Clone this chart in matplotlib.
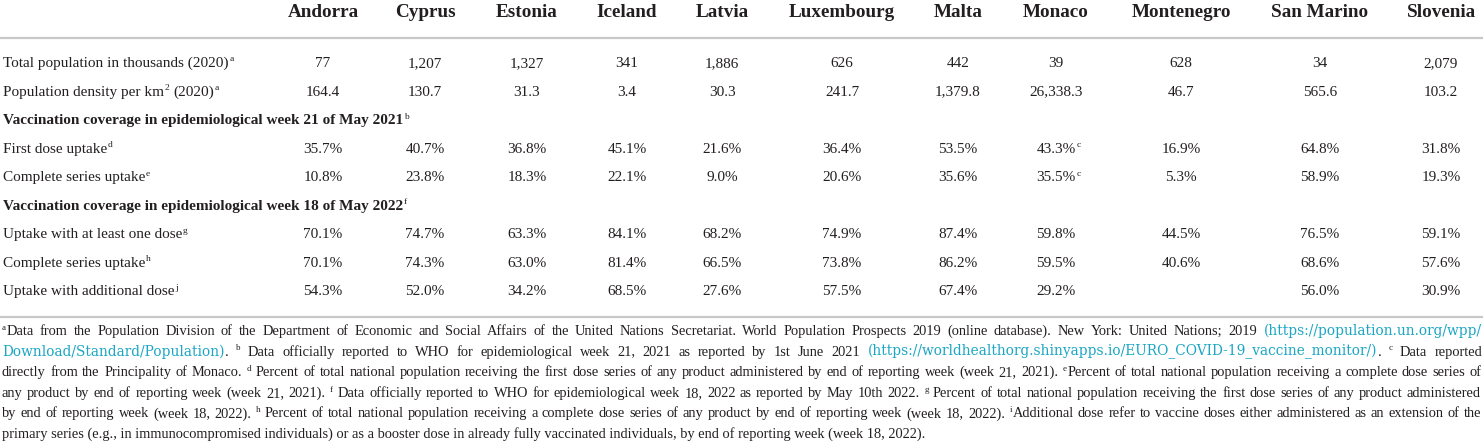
import matplotlib
matplotlib.use("Agg")
import matplotlib.pyplot as plt

W, H = 1483, 445

# table content
countries = ["Andorra", "Cyprus", "Estonia", "Iceland", "Latvia", "Luxembourg",
             "Malta", "Monaco", "Montenegro", "San Marino", "Slovenia"]
total_pop = [77, 1207, 1327, 341, 1886, 626, 442, 39, 628, 34, 2079]
density = [164.4, 130.7, 31.3, 3.4, 30.3, 241.7, 1379.8, 26338.3, 46.7, 565.6, 103.2]
first_dose_2021 = [35.7, 40.7, 36.8, 45.1, 21.6, 36.4, 53.5, 43.3, 16.9, 64.8, 31.8]
complete_2021 = [10.8, 23.8, 18.3, 22.1, 9.0, 20.6, 35.6, 35.5, 5.3, 58.9, 19.3]
one_dose_2022 = [70.1, 74.7, 63.3, 84.1, 68.2, 74.9, 87.4, 59.8, 44.5, 76.5, 59.1]
complete_2022 = [70.1, 74.3, 63.0, 81.4, 66.5, 73.8, 86.2, 59.5, 40.6, 68.6, 57.6]
additional_2022 = [54.3, 52.0, 34.2, 68.5, 27.6, 57.5, 67.4, 29.2, None, 56.0, 30.9]
monaco_note = "c"   # 2021 values for Monaco carry footnote c

# each row: label runs, values, formatter ; None values -> section header
rows = [
    ([("Total population in thousands (2020)", "n"), ("a", "s")], total_pop, "int"),
    ([("Population density per km", "n"), ("2", "s"), (" (2020)", "n"), ("a", "s")], density, "dec"),
    ([("Vaccination coverage in epidemiological week 21 of May 2021", "b"), ("b", "s")], None, None),
    ([("First dose uptake", "n"), ("d", "s")], first_dose_2021, "pct21"),
    ([("Complete series uptake", "n"), ("e", "s")], complete_2021, "pct21"),
    ([("Vaccination coverage in epidemiological week 18 of May 2022", "b"), ("f", "s")], None, None),
    ([("Uptake with at least one dose", "n"), ("g", "s")], one_dose_2022, "pct"),
    ([("Complete series uptake", "n"), ("h", "s")], complete_2022, "pct"),
    ([("Uptake with additional dose", "n"), ("j", "s")], additional_2022, "pct"),
]

footnotes = [
    [("a", "s"), ("Data from the Population Division of the Department of Economic and Social Affairs of the United Nations Secretariat. World Population Prospects 2019 (online database). New York: United Nations; 2019 ", "n"),
     ("(https://population.un.org/wpp/", "u")],
    [("Download/Standard/Population)", "u"), (".", "n"), (" ", "n"), ("b", "s"),
     (" Data officially reported to WHO for epidemiological week 21, 2021 as reported by 1st June 2021 ", "n"),
     ("(https://worldhealthorg.shinyapps.io/EURO_COVID-19_vaccine_monitor/)", "u"), (".", "n"), (" ", "n"), ("c", "s"),
     (" Data reported", "n")],
    [("directly from the Principality of Monaco. ", "n"), ("d", "s"),
     (" Percent of total national population receiving the first dose series of any product administered by end of reporting week (week 21, 2021). ", "n"),
     ("e", "s"), ("Percent of total national population receiving a complete dose series of", "n")],
    [("any product by end of reporting week (week 21, 2021). ", "n"), ("f", "s"),
     (" Data officially reported to WHO for epidemiological week 18, 2022 as reported by May 10th 2022. ", "n"), ("g", "s"),
     (" Percent of total national population receiving the first dose series of any product administered", "n")],
    [("by end of reporting week (week 18, 2022). ", "n"), ("h", "s"),
     (" Percent of total national population receiving a complete dose series of any product by end of reporting week (week 18, 2022). ", "n"),
     ("i", "s"), ("Additional dose refer to vaccine doses either administered as an extension of the", "n")],
    [("primary series (e.g., in immunocompromised individuals) or as a booster dose in already fully vaccinated individuals, by end of reporting week (week 18, 2022).", "n")],
]

# layout (pixels)
col_x = [323, 425, 527, 627, 722, 842, 958, 1056, 1181, 1320, 1441]
head_y = 17
row_y0, row_step = 67, 28.56
foot_y0, foot_step = 335, 20.6
label_x = 3

SERIF = "Liberation Serif"
URLFONT = "DejaVu Serif"
INK = "#231f20"
LINK = "#1aa6c4"
RULE = "#c8c8c8"

fig = plt.figure(figsize=(W / 100, H / 100), dpi=100)
ax = fig.add_axes([0, 0, 1, 1])
ax.set_xlim(0, W)
ax.set_ylim(H, 0)
ax.axis("off")
renderer = fig.canvas.get_renderer()


def draw_tok(x, y, s, kind, size):
    kw = dict(family=SERIF, color=INK, fontsize=size, va="baseline", ha="left")
    if kind == "b":
        kw["fontweight"] = "bold"
    elif kind == "s":
        kw["fontsize"] = size * 0.62
        y = y - size * 1.389 * 0.36
    elif kind == "u":
        kw["family"] = URLFONT
        kw["color"] = LINK
        kw["fontsize"] = size * 0.95
    return ax.text(x, y, s, **kw)


def tw(t):
    return t.get_window_extent(renderer).width


_sp = {}


def space_w(kind, size):
    key = (kind, round(size, 3))
    if key not in _sp:
        a = draw_tok(0, 0, "x x", kind, size)
        b = draw_tok(0, 0, "xx", kind, size)
        _sp[key] = tw(a) - tw(b)
        a.remove()
        b.remove()
    return _sp[key]


def split_runs(runs, by_word):
    # pieces (text, kind, gap_before); words split only when justifying
    out = []
    gap = False
    for text, kind in runs:
        parts = text.split(" ") if by_word else [text.strip()]
        if not by_word:
            if text[:1] == " ":
                gap = True
            if parts[0]:
                out.append((parts[0], kind, gap and len(out) > 0))
                gap = False
            if text[-1:] == " ":
                gap = True
            continue
        for i, p in enumerate(parts):
            if i > 0:
                gap = True
            if p:
                out.append((p, kind, gap and len(out) > 0))
                gap = False
    return out


def line(x, y, runs, size, target=None):
    toks = split_runs(runs, target is not None)
    arts = [draw_tok(x, y, p, k, size) for p, k, g in toks]
    ws = [tw(a) for a in arts]
    gaps = [space_w(k if k in ("b", "u") else "n", size) if g else 0.0 for p, k, g in toks]
    ngaps = sum(1 for t in toks if t[2])
    extra = 0.0
    if target is not None and ngaps:
        extra = (target - sum(ws) - sum(gaps)) / ngaps
        if extra < -0.2 * (sum(gaps) / ngaps):
            for a in arts:
                a.remove()
            new = size * (target - sum(gaps) * 0.85) / (sum(ws) + 1e-9) * 0.995
            return line(x, y, runs, min(new, size * 0.99), target)
    cx = x
    for a, w, t, g in zip(arts, ws, toks, gaps):
        if t[2]:
            cx += g + extra
        elif cx > x:
            cx += size * 0.06
        a.set_x(cx)
        cx += w
    return cx


def fmt(v, kind):
    if v is None:
        return ""
    if kind == "int":
        return f"{v:,}"
    if kind == "dec":
        return f"{v:,.1f}"
    return f"{v:.1f}%"


# header
for name, x in zip(countries, col_x):
    ax.text(x, head_y, name, family=SERIF, fontweight="bold", fontsize=13.8,
            color=INK, ha="center", va="baseline")
ax.axhline(38, color=RULE, lw=1.6)

# body
for i, (label, vals, kind) in enumerate(rows):
    y = row_y0 + i * row_step
    line(label_x, y, label, 11)
    if vals is None:
        continue
    for j, (v, x) in enumerate(zip(vals, col_x)):
        s = fmt(v, kind)
        if not s:
            continue
        t = ax.text(x, y, s, family=SERIF, fontsize=11, color=INK, ha="center", va="baseline")
        if kind == "pct21" and countries[j] == "Monaco":
            ext = t.get_window_extent(renderer)
            draw_tok(ext.x1 + 1, y, monaco_note, "s", 11)

ax.axhline(317, color=RULE, lw=1.6)

# footnotes
for i, runs in enumerate(footnotes):
    y = foot_y0 + i * foot_step
    last = i == len(footnotes) - 1
    line(2, y, runs, 10.4, None if last else W - 4)

fig.savefig("out.png", dpi=100)
